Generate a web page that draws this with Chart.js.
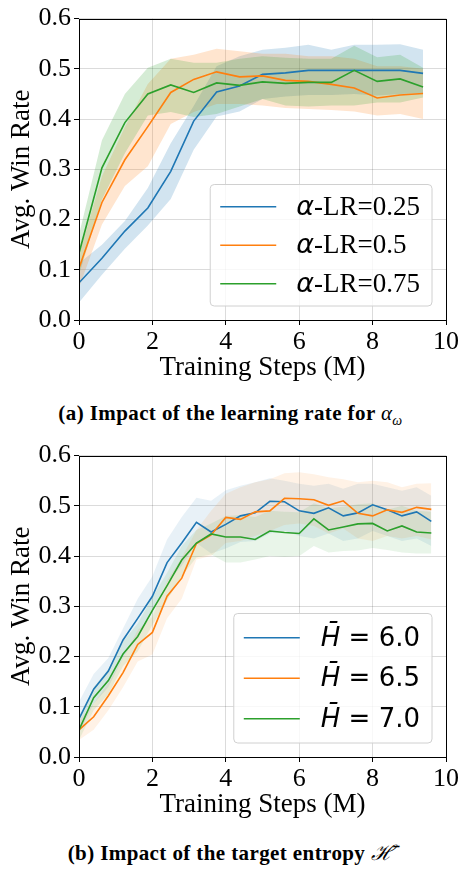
<!DOCTYPE html>
<html>
<head>
<meta charset="utf-8">
<script src="https://cdn.jsdelivr.net/npm/chart.js@4.4.1/dist/chart.umd.min.js"></script>
<style>
  html, body { margin: 0; padding: 0; background: #fff; }
  body { width: 461px; height: 870px; position: relative; overflow: hidden; }
  .box { position: absolute; left: 0; width: 461px; height: 385px; }
  .caption {
    position: absolute; left: 0; width: 461px; text-align: center;
    font-family: 'Liberation Serif', serif; font-weight: bold; font-size: 21px; color: #000;
    letter-spacing: 0.4px;
  }
  .caption .m { font-weight: normal; font-style: italic; }
</style>
</head>
<body>
<div class="box" style="top:0"><canvas id="chartA"></canvas></div>
<div class="caption" style="top:401px">(a) Impact of the learning rate for <span class="m">α<sub style="font-size:14px">ω</sub></span></div>
<div class="box" style="top:437px"><canvas id="chartB"></canvas></div>
<div class="caption" style="top:838px">(b) Impact of the target entropy <span class="m" style="font-family:'DejaVu Serif'">ℋ̄</span></div>
<script>
// ---- data (a): learning rate for alpha ----
const stepsA = [0, 0.625, 1.25, 1.875, 2.5, 3.125, 3.75, 4.375, 5, 5.625, 6.25, 6.875, 7.5, 8.125, 8.75, 9.375];
const namesA = ['α-LR=0.25', 'α-LR=0.5', 'α-LR=0.75'];
const lr025Mean = [0.074, 0.123, 0.177, 0.223, 0.296, 0.396, 0.454, 0.466, 0.489, 0.492, 0.497, 0.497, 0.497, 0.497, 0.497, 0.491];
const lr025Up   = [0.113, 0.150, 0.197, 0.263, 0.352, 0.426, 0.505, 0.525, 0.538, 0.542, 0.548, 0.538, 0.548, 0.548, 0.549, 0.538];
const lr025Low  = [0.035, 0.090, 0.142, 0.188, 0.241, 0.339, 0.405, 0.415, 0.440, 0.445, 0.448, 0.448, 0.450, 0.447, 0.450, 0.452];
const lr05Mean  = [0.103, 0.234, 0.319, 0.385, 0.453, 0.479, 0.494, 0.484, 0.486, 0.477, 0.475, 0.469, 0.462, 0.442, 0.448, 0.451];
const lr05Up    = [0.129, 0.286, 0.384, 0.470, 0.520, 0.528, 0.540, 0.535, 0.530, 0.530, 0.525, 0.525, 0.520, 0.505, 0.505, 0.500];
const lr05Low   = [0.064, 0.190, 0.267, 0.306, 0.390, 0.414, 0.430, 0.430, 0.427, 0.422, 0.420, 0.418, 0.415, 0.407, 0.410, 0.400];
const lr075Mean = [0.133, 0.303, 0.393, 0.450, 0.468, 0.453, 0.472, 0.467, 0.474, 0.471, 0.473, 0.473, 0.497, 0.475, 0.480, 0.464];
const lr075Up   = [0.170, 0.358, 0.450, 0.502, 0.520, 0.512, 0.512, 0.520, 0.525, 0.522, 0.520, 0.520, 0.546, 0.523, 0.528, 0.502];
const lr075Low  = [0.090, 0.240, 0.332, 0.407, 0.414, 0.404, 0.410, 0.425, 0.440, 0.427, 0.425, 0.427, 0.427, 0.433, 0.433, 0.443];

// ---- data (b): target entropy ----
const stepsB = [0, 0.4, 0.8, 1.2, 1.6, 2, 2.4, 2.8, 3.2, 3.6, 4, 4.4, 4.8, 5.2, 5.6, 6, 6.4, 6.8, 7.2, 7.6, 8, 8.4, 8.8, 9.2, 9.6];
const namesB = ['H̄ = 6.0', 'H̄ = 6.5', 'H̄ = 7.0'];
const h60Mean = [0.076, 0.135, 0.171, 0.233, 0.276, 0.320, 0.387, 0.426, 0.467, 0.448, 0.463, 0.480, 0.486, 0.509, 0.508, 0.490, 0.485, 0.496, 0.480, 0.486, 0.502, 0.492, 0.480, 0.488, 0.469];
const h60Up   = [0.110, 0.165, 0.197, 0.256, 0.315, 0.360, 0.433, 0.478, 0.516, 0.510, 0.531, 0.540, 0.547, 0.555, 0.550, 0.544, 0.540, 0.544, 0.534, 0.544, 0.544, 0.537, 0.530, 0.537, 0.520];
const h60Low  = [0.047, 0.106, 0.139, 0.197, 0.243, 0.289, 0.348, 0.380, 0.426, 0.405, 0.415, 0.428, 0.430, 0.445, 0.450, 0.440, 0.435, 0.445, 0.430, 0.435, 0.450, 0.440, 0.430, 0.435, 0.420];
const h65Mean = [0.054, 0.080, 0.122, 0.168, 0.224, 0.248, 0.320, 0.356, 0.425, 0.442, 0.477, 0.473, 0.488, 0.490, 0.515, 0.514, 0.512, 0.501, 0.510, 0.485, 0.480, 0.492, 0.487, 0.497, 0.493];
const h65Up   = [0.073, 0.106, 0.148, 0.197, 0.253, 0.279, 0.351, 0.397, 0.452, 0.490, 0.524, 0.537, 0.547, 0.553, 0.565, 0.567, 0.563, 0.557, 0.553, 0.547, 0.550, 0.547, 0.537, 0.544, 0.545];
const h65Low  = [0.034, 0.054, 0.093, 0.139, 0.190, 0.204, 0.276, 0.315, 0.393, 0.400, 0.426, 0.430, 0.440, 0.450, 0.462, 0.465, 0.460, 0.445, 0.455, 0.435, 0.430, 0.440, 0.435, 0.440, 0.433];
const h70Mean = [0.054, 0.118, 0.152, 0.205, 0.240, 0.292, 0.341, 0.392, 0.426, 0.444, 0.438, 0.438, 0.433, 0.450, 0.447, 0.445, 0.474, 0.452, 0.458, 0.464, 0.465, 0.450, 0.460, 0.448, 0.446];
const h70Up   = [0.080, 0.139, 0.175, 0.230, 0.266, 0.318, 0.367, 0.420, 0.452, 0.465, 0.480, 0.482, 0.478, 0.490, 0.488, 0.487, 0.505, 0.495, 0.498, 0.503, 0.505, 0.492, 0.500, 0.490, 0.488];
const h70Low  = [0.034, 0.093, 0.125, 0.181, 0.210, 0.263, 0.312, 0.360, 0.397, 0.403, 0.387, 0.387, 0.393, 0.400, 0.398, 0.400, 0.420, 0.407, 0.410, 0.411, 0.416, 0.412, 0.407, 0.405, 0.405];

const xTicks = [0, 2, 4, 6, 8, 10];
const yTicks = [0.0, 0.1, 0.2, 0.3, 0.4, 0.5, 0.6];

const colors = [[31, 119, 180], [255, 127, 14], [44, 160, 44]];
const SERIF = "'Liberation Serif', 'Times New Roman', serif";

function pts(xs, ys) {
    return xs.map((x, i) => ({x: x, y: ys[i]}));
}

// bands first (all beneath lines), then mean lines
function buildDatasets(xs, names, means, ups, lows, bandAlpha) {
    const sets = [];
    names.forEach((name, k) => {
        const c = colors[k];
        sets.push({
            label: name + ' upper', data: pts(xs, ups[k]), fill: '+1',
            backgroundColor: `rgba(${c[0]},${c[1]},${c[2]},${bandAlpha})`,
            borderWidth: 0, pointRadius: 0, order: 10 - k, isBand: true
        });
        sets.push({
            label: name + ' lower', data: pts(xs, lows[k]), fill: false,
            borderWidth: 0, pointRadius: 0, order: 10 - k, isBand: true
        });
    });
    names.forEach((name, k) => {
        const c = colors[k];
        sets.push({
            label: name, data: pts(xs, means[k]), fill: false,
            borderColor: `rgb(${c[0]},${c[1]},${c[2]})`,
            borderWidth: 1.6, pointRadius: 0, tension: 0, order: 3 - k
        });
    });
    return sets;
}

// frame + in-plot legend (lower right, like matplotlib)
const framePlugin = {
    id: 'frameLegend',
    afterDraw(chart, args, opts) {
        const ctx = chart.ctx;
        const a = chart.chartArea;
        ctx.save();
        ctx.strokeStyle = '#000';
        ctx.lineWidth = 1;
        ctx.strokeRect(Math.round(a.left) + 0.5, Math.round(a.top) + 0.5,
            Math.round(a.right - a.left), Math.round(a.bottom - a.top));

        const items = chart.data.datasets.filter(d => !d.isBand);
        const fs = opts.fontSize;
        const mathFont = `italic ${fs}px 'DejaVu Sans'`;
        const restFont = `${fs}px ${opts.family}`;
        let textW = 0;
        const parts = items.map(d => {
            const m = d.label.match(/^(\S[\u0300-\u036f]?)(.*)$/u);
            ctx.font = mathFont;
            const w1 = ctx.measureText(m[1]).width;
            ctx.font = restFont;
            const w2 = ctx.measureText(m[2]).width;
            textW = Math.max(textW, w1 + w2);
            return {math: m[1], rest: m[2], w1: w1, color: d.borderColor};
        });
        const padL = 10, lineLen = 56, gap = opts.gap, padR = 12;
        const w = padL + lineLen + gap + textW + padR;
        const h = opts.rowH * items.length + opts.padV * 2;
        const x0 = a.right - 14 - w;
        const y0 = a.bottom - 14 - h;
        ctx.beginPath();
        ctx.roundRect(x0, y0, w, h, 4);
        ctx.fillStyle = 'rgba(255,255,255,0.8)';
        ctx.fill();
        ctx.strokeStyle = '#d0d0d0';
        ctx.lineWidth = 1;
        ctx.stroke();
        ctx.textBaseline = 'middle';
        parts.forEach((p, i) => {
            const cy = y0 + opts.padV + opts.rowH * (i + 0.5);
            ctx.strokeStyle = p.color;
            ctx.lineWidth = 1.6;
            ctx.beginPath();
            ctx.moveTo(x0 + padL, cy);
            ctx.lineTo(x0 + padL + lineLen, cy);
            ctx.stroke();
            const tx = x0 + padL + lineLen + gap;
            ctx.fillStyle = '#000';
            ctx.font = mathFont;
            ctx.fillText(p.math, tx, cy + 1);
            ctx.font = restFont;
            ctx.fillText(p.rest, tx + p.w1, cy + 1);
        });
        ctx.restore();
    }
};

function makeChart(id, xs, names, means, ups, lows, bandAlpha, legendOpts) {
    return new Chart(document.getElementById(id), {
        type: 'line',
        data: {datasets: buildDatasets(xs, names, means, ups, lows, bandAlpha)},
        plugins: [framePlugin],
        options: {
            responsive: true,
            maintainAspectRatio: false,
            animation: false,
            devicePixelRatio: 1,
            layout: {padding: {left: 0, right: 14, top: 14, bottom: 0}},
            plugins: {
                legend: {display: false},
                tooltip: {enabled: false},
                filler: {drawTime: 'beforeDatasetsDraw', propagate: false},
                frameLegend: legendOpts
            },
            scales: {
                x: {
                    type: 'linear',
                    min: xTicks[0], max: xTicks[xTicks.length - 1],
                    afterBuildTicks: s => { s.ticks = xTicks.map(v => ({value: v})); },
                    afterFit: s => { s.height = 65; },
                    border: {display: false},
                    grid: {
                        color: 'rgba(0,0,0,0.18)', lineWidth: 0.8, borderDash: [4, 3],
                        drawTicks: true, tickLength: 5, tickColor: '#000', tickWidth: 1, tickBorderDash: []
                    },
                    ticks: {
                        color: '#000', padding: 2, maxRotation: 0,
                        font: {family: SERIF, size: 26},
                        callback: v => String(v)
                    },
                    title: {
                        display: true, text: 'Training Steps (M)', color: '#000',
                        font: {family: SERIF, size: 27}, padding: {top: 0, bottom: 1}
                    }
                },
                y: {
                    min: yTicks[0], max: yTicks[yTicks.length - 1],
                    afterBuildTicks: s => { s.ticks = yTicks.map(v => ({value: v})); },
                    afterFit: s => { s.width = 79; },
                    border: {display: false},
                    grid: {
                        color: 'rgba(0,0,0,0.18)', lineWidth: 0.8, borderDash: [4, 3],
                        drawTicks: true, tickLength: 5, tickColor: '#000', tickWidth: 1, tickBorderDash: []
                    },
                    ticks: {
                        color: '#000', padding: 3,
                        font: {family: SERIF, size: 26},
                        callback: v => Number(v).toFixed(1)
                    },
                    title: {
                        display: true, text: 'Avg. Win Rate', color: '#000',
                        font: {family: SERIF, size: 27}, padding: {top: 6, bottom: 0}
                    }
                }
            }
        }
    });
}

makeChart('chartA', stepsA, namesA,
    [lr025Mean, lr05Mean, lr075Mean], [lr025Up, lr05Up, lr075Up], [lr025Low, lr05Low, lr075Low],
    0.2, {fontSize: 27, family: SERIF, rowH: 38.5, padV: 3, gap: 20});

makeChart('chartB', stepsB, namesB,
    [h60Mean, h65Mean, h70Mean], [h60Up, h65Up, h70Up], [h60Low, h65Low, h70Low],
    0.1, {fontSize: 26, family: "'DejaVu Sans'", rowH: 40.5, padV: 4, gap: 21});
</script>
</body>
</html>
